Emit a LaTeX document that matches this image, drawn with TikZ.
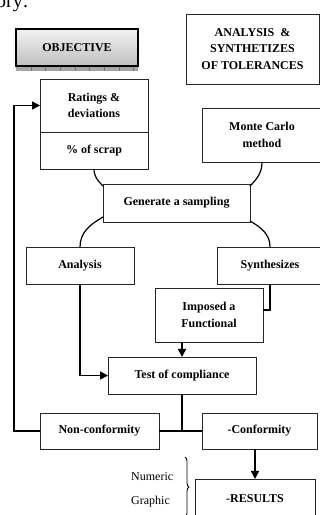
\documentclass[tikz,border=0pt]{standalone}
\usepackage{fontspec}
\setmainfont{Liberation Serif}
\usetikzlibrary{arrows.meta,decorations.pathreplacing,calc}
\begin{document}
\begin{tikzpicture}[x=1pt,y=1pt,
 box/.style={draw=black!85, line width=0.8pt, fill=white, inner sep=0pt, outer sep=0pt, align=center, font=\fontsize{12}{16.5}\selectfont\bfseries},
 conn/.style={line width=1.6pt, black},
 arr/.style={conn, -{Triangle[length=8pt,width=8pt]}},
 curve/.style={line width=1.2pt, black},
 plain/.style={font=\fontsize{12}{14}\selectfont, inner sep=0pt}]
\useasboundingbox (0,0) rectangle (320,515);

% cropped fragment of page text
\node[anchor=base west, inner sep=0pt, font=\fontsize{20}{24}\selectfont] (frag) at (-4,507) {ory:};

% objective box with strip
\fill[black!35] (16,444) rectangle (138,449.5);
\foreach \xx in {31,45,60,75,89,104,119,133} \draw[black!55, line width=0.6pt] (\xx,444) -- (\xx,449.5);
\node[box, line width=1.5pt, draw=black, top color=black!5, bottom color=black!25, minimum width=122pt, minimum height=37pt] (obj) at (77,467.5) {OBJECTIVE};

\node[box, minimum width=133pt, minimum height=70pt] (title) at (252.5,466) {ANALYSIS \ \&\\SYNTHETIZES\\OF TOLERANCES};

\node[box, minimum width=108pt, minimum height=53pt] (rat1) at (94,409.5) {Ratings \&\\deviations};
\node[box, minimum width=108pt, minimum height=37pt] (rat2) at (94,364.5) {\% of scrap};

\node[box, minimum width=120pt, minimum height=54pt] (monte) at (262,380) {Monte Carlo\\method};

\node[box, minimum width=147pt, minimum height=38pt] (gen) at (176.5,312) {Generate a sampling};

\node[box, minimum width=108pt, minimum height=37pt] (ana) at (80,249.5) {Analysis};
\node[box, minimum width=106pt, minimum height=37pt] (syn) at (270,249.5) {Synthesizes};

\node[box, minimum width=108pt, minimum height=54pt] (imp) at (209,200) {Imposed a\\Functional};

\node[box, minimum width=148pt, minimum height=37pt] (test) at (182,139.5) {Test of compliance};

\node[box, minimum width=119pt, minimum height=36pt] (non) at (99.5,84) {Non-conformity};
\node[box, minimum width=115pt, minimum height=36pt] (conf) at (259.5,84) {-Conformity};

\node[box, minimum width=120pt, minimum height=40pt] (res) at (255,16) {-RESULTS};

\node[plain, anchor=west] (num) at (131,38) {Numeric};
\node[plain, anchor=west] (gra) at (131,13) {Graphic};
\coordinate (brtop) at (185,58);
\coordinate (brbot) at (185,-2);
\draw[line width=0.9pt, decorate, decoration={brace, amplitude=4pt}] (brtop) -- (brbot);

% curved links around the sampling box
\draw[curve] (rat2.south) to[out=-90, in=135] ([yshift=-2pt]gen.north west);
\draw[curve] (monte.south) to[out=-90, in=45] ([yshift=-2pt]gen.north east);
\draw[curve] ([yshift=5pt]gen.south west) to[out=210, in=90] (ana.north);
\draw[curve] ([yshift=1pt]gen.south east) to[out=-30, in=90] (syn.north);

% straight connectors
\draw[conn] (syn.south) |- ([yshift=5pt]imp.east);
\draw[arr] (test.north |- imp.south) -- (test.north);
\draw[arr] (ana.south) |- (test.west);
\draw[conn] (test.south) -- (test.south |- non.east);
\draw[conn] (non.east) -- (conf.west);
\coordinate (loop) at (14,84);
\draw[arr] (non.west) -- (loop) |- (rat1.west);
\draw[arr] (conf.south -| res.north) -- (res.north);
\end{tikzpicture}
\end{document}
